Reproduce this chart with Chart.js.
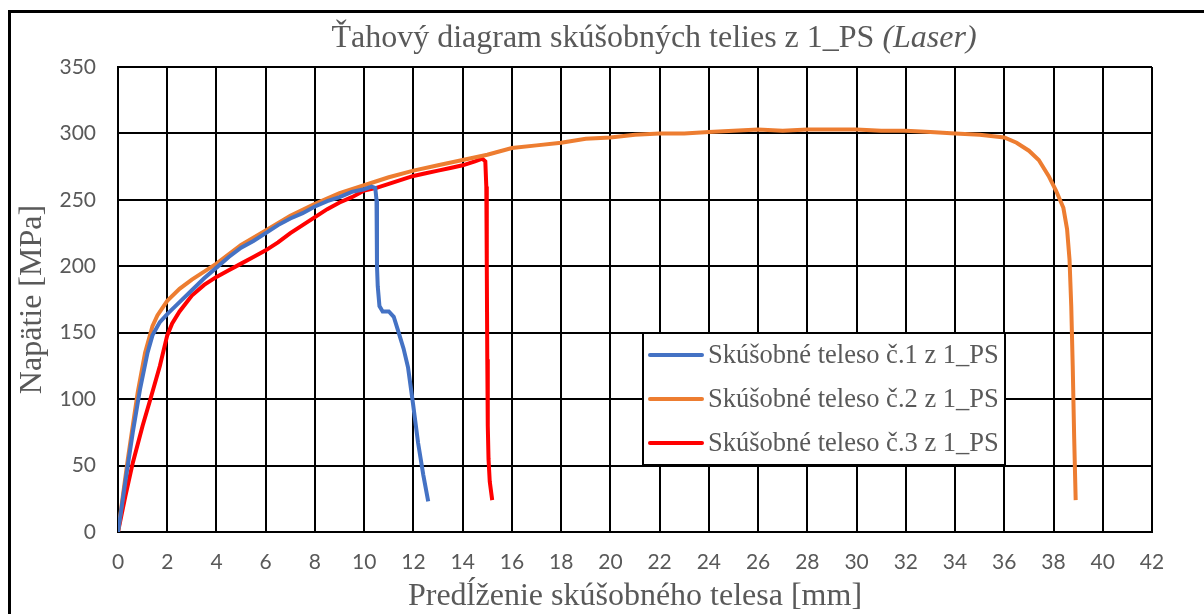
<!DOCTYPE html>
<html>
<head>
<meta charset="utf-8">
<script src="https://cdn.jsdelivr.net/npm/chart.js@4"></script>
<style>
    html, body { margin: 0; padding: 0; background: #ffffff; overflow: hidden; }
    .frame { position: absolute; left: 8px; top: 10px; width: 1300px; height: 700px; border: 3px solid #000; }
    .wrap { position: absolute; left: 0; top: 0; width: 1204px; height: 614px; }
</style>
</head>
<body>
<div class="frame"></div>
<div class="wrap"><canvas id="tensileChart" width="1204" height="614"></canvas></div>
<script>
const seriesLabels = [
    'Skúšobné teleso č.1 z 1_PS',
    'Skúšobné teleso č.2 z 1_PS',
    'Skúšobné teleso č.3 z 1_PS'
];
const seriesColors = ['#4472C4', '#ED7D31', '#FF0000'];

// elongation [mm] / stress [MPa]
const elong1 = [0, 0.3, 0.6, 0.9, 1.2, 1.4, 1.7, 2.0, 2.5, 3.0, 3.5, 4.0, 4.5, 5.0, 5.5, 6.0, 6.5, 7.0, 7.5, 8.0, 8.5, 9.0, 9.5, 10.0, 10.3, 10.45, 10.5, 10.52, 10.55, 10.62, 10.75, 11.0, 11.2, 11.37, 11.6, 11.78, 11.98, 12.19, 12.4, 12.6];
const stress1 = [0, 38, 75, 108, 135, 148, 158, 164, 173, 182, 191, 199, 207, 214, 219, 225, 231, 236, 240, 245, 249, 252, 256, 258, 260, 259, 250, 200, 185, 170, 166, 166, 162, 152, 138, 124, 97, 67, 43, 23];

const elong2 = [0, 0.4, 0.8, 1.1, 1.4, 1.6, 2.0, 2.5, 3.0, 3.5, 4.0, 5.0, 6.0, 7.0, 8.0, 9.0, 10.0, 11.0, 12.0, 13.0, 14.0, 15.0, 16.0, 17.0, 18.0, 19.0, 20.0, 21.0, 22.0, 23.0, 24.0, 25.0, 26.0, 27.0, 28.0, 29.0, 30.0, 31.0, 32.0, 33.0, 34.0, 35.0, 36.0, 36.5, 37.0, 37.4, 37.8, 38.1, 38.4, 38.55, 38.65, 38.72, 38.78, 38.84, 38.9];
const stress2 = [0, 55, 105, 135, 155, 163, 174, 183, 190, 196, 202, 216, 227, 238, 247, 255, 261, 267, 272, 276, 280, 284, 289, 291, 293, 296, 297, 299, 300, 300, 301, 302, 303, 302, 303, 303, 303, 302, 302, 301, 300, 299, 297, 293, 287, 280, 268, 257, 244, 228, 205, 170, 125, 70, 24];

const elong3 = [0, 0.3, 0.6, 1.0, 1.3, 1.7, 2.0, 2.2, 2.5, 3.0, 3.5, 4.0, 4.5, 5.0, 5.5, 6.0, 6.5, 7.0, 7.5, 8.0, 8.5, 9.0, 9.5, 10.0, 10.5, 11.0, 11.5, 12.0, 12.5, 13.0, 13.5, 14.0, 14.5, 14.8, 14.92, 14.96, 14.98, 15.0, 15.02, 15.05, 15.1, 15.2];
const stress3 = [0, 27, 52, 80, 99, 125, 148, 157, 166, 178, 186, 192, 197, 202, 207, 212, 218, 225, 231, 237, 243, 248, 252, 257, 259, 262, 265, 268, 270, 272, 274, 276, 279, 281, 279, 260, 200, 130, 80, 55, 38, 24];

const toPoints = (xs, ys) => xs.map((x, i) => ({ x: x, y: ys[i] }));
const allSeries = [[elong1, stress1], [elong2, stress2], [elong3, stress3]];

const textGray = '#595959';
const serif = '"Liberation Serif", "Times New Roman", serif';

// title with italic suffix
const titlePlugin = {
    id: 'mixedTitle',
    afterDraw(chart) {
        const ctx = chart.ctx;
        const partA = 'Ťahový diagram skúšobných telies z 1_PS ';
        const partB = '(Laser)';
        ctx.save();
        ctx.fillStyle = textGray;
        ctx.textBaseline = 'middle';
        ctx.font = '32px ' + serif;
        const wA = ctx.measureText(partA).width;
        ctx.font = 'italic 32px ' + serif;
        const wB = ctx.measureText(partB).width;
        let x = 654 - (wA + wB) / 2;
        ctx.textAlign = 'left';
        ctx.font = '32px ' + serif;
        ctx.fillText(partA, x, 39);
        ctx.font = 'italic 32px ' + serif;
        ctx.fillText(partB, x + wA, 39);
        ctx.restore();
    }
};

// boxed legend sitting inside the plot area
const boxLegend = {
    id: 'boxLegend',
    afterDatasetsDraw(chart) {
        const ctx = chart.ctx;
        const left = 643, top = 333, w = 362, h = 132;
        ctx.save();
        ctx.fillStyle = '#ffffff';
        ctx.fillRect(left, top, w, h);
        ctx.strokeStyle = '#000';
        ctx.lineWidth = 2;
        ctx.strokeRect(left, top, w, h);
        ctx.font = '26.5px ' + serif;
        ctx.textBaseline = 'middle';
        ctx.textAlign = 'left';
        chart.data.datasets.forEach((ds, i) => {
            const y = top + 22 + i * 44;
            ctx.strokeStyle = ds.borderColor;
            ctx.lineWidth = 4;
            ctx.lineCap = 'round';
            ctx.beginPath();
            ctx.moveTo(650, y);
            ctx.lineTo(702, y);
            ctx.stroke();
            ctx.fillStyle = textGray;
            ctx.fillText(ds.label, 708, y + 1);
        });
        ctx.restore();
    }
};

new Chart(document.getElementById('tensileChart'), {
    type: 'line',
    data: {
        datasets: allSeries.map(([xs, ys], i) => ({
            label: seriesLabels[i],
            data: toPoints(xs, ys),
            borderColor: seriesColors[i],
            backgroundColor: seriesColors[i],
            borderWidth: 4,
            pointRadius: 0,
            tension: 0,
            fill: false
        }))
    },
    options: {
        responsive: false,
        animation: false,
        layout: { padding: { left: 0, right: 52, top: 67, bottom: 0 } },
        plugins: {
            legend: { display: false },
            title: { display: false },
            tooltip: { enabled: false }
        },
        scales: {
            x: {
                type: 'linear',
                min: 0,
                max: 42,
                ticks: {
                    stepSize: 2,
                    color: textGray,
                    padding: 18,
                    maxRotation: 0,
                    font: { family: 'Lato, "Liberation Sans", sans-serif', size: 21 }
                },
                grid: { color: '#000', lineWidth: 2, drawTicks: false },
                border: { color: '#000', width: 2 },
                title: {
                    display: true,
                    text: 'Predĺženie skúšobného telesa [mm]',
                    color: textGray,
                    padding: { top: 0, bottom: 0 },
                    font: { family: serif, size: 32, lineHeight: 1.1 }
                },
                afterFit(scale) { scale.height = 82; }
            },
            y: {
                min: 0,
                max: 350,
                ticks: {
                    stepSize: 50,
                    color: textGray,
                    padding: 22,
                    font: { family: 'Lato, "Liberation Sans", sans-serif', size: 21 }
                },
                grid: { color: '#000', lineWidth: 2, drawTicks: false },
                border: { color: '#000', width: 2 },
                title: {
                    display: true,
                    text: 'Napätie [MPa]',
                    color: textGray,
                    padding: { top: 15, bottom: 0 },
                    font: { family: serif, size: 32, lineHeight: 1.1 }
                },
                afterFit(scale) { scale.width = 118; }
            }
        }
    },
    plugins: [titlePlugin, boxLegend]
});
</script>
</body>
</html>
